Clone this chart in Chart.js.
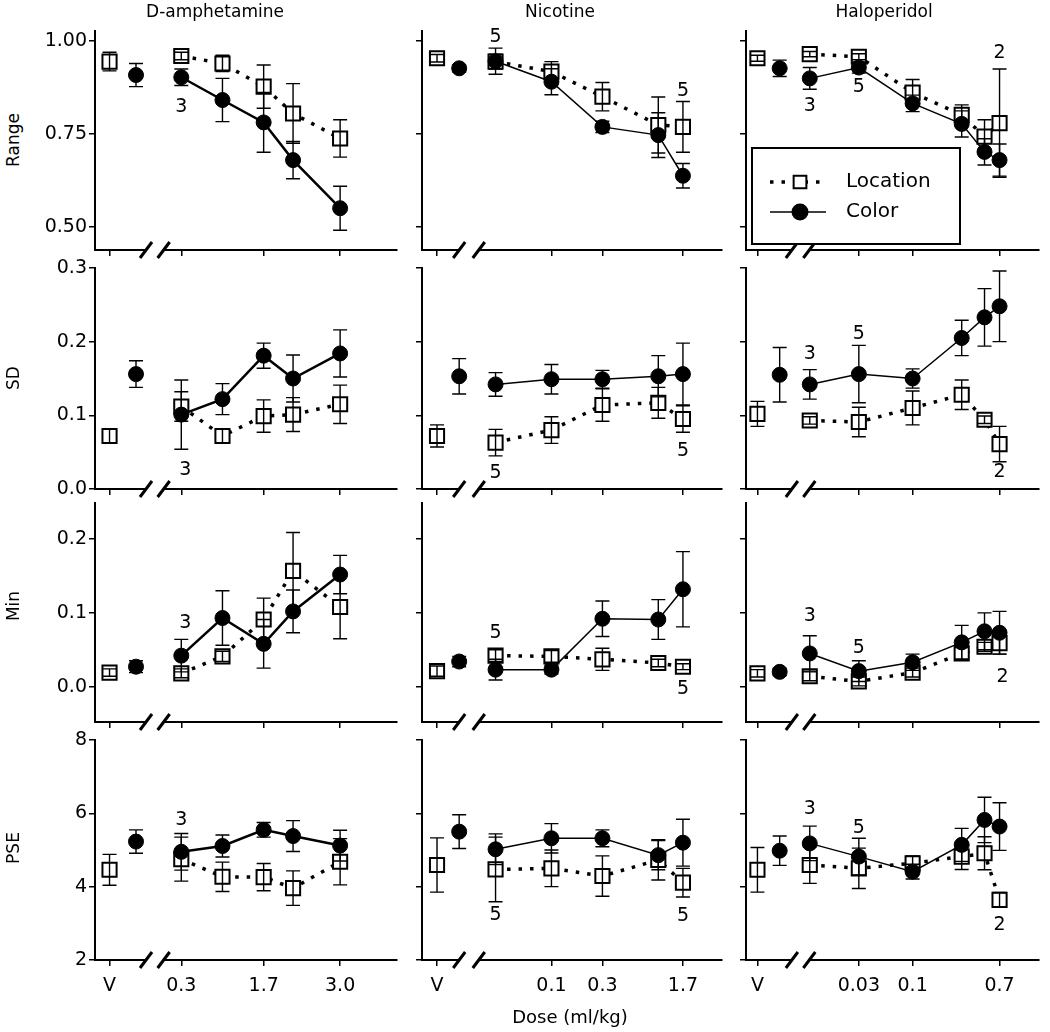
<!DOCTYPE html>
<html>
<head>
<meta charset="utf-8">
<script src="https://cdn.jsdelivr.net/npm/chart.js@4.4.1/dist/chart.umd.min.js"></script>
<style>
  body { margin: 0; background: #fff; }
  #fig { position: relative; width: 1050px; height: 1032px; font-family: "DejaVu Sans", sans-serif; color: #000; }
  #fig canvas { position: absolute; }
  .ttl { position: absolute; font-size: 17px; transform: translateX(-50%); white-space: nowrap; }
  .ylab { position: absolute; font-size: 17px; transform: translate(-50%, -50%) rotate(-90deg); white-space: nowrap; }
</style>
</head>
<body>
<div id="fig"></div>
<script>
const FONT = '"DejaVu Sans", "Liberation Sans", sans-serif';

// doses (ml/kg) on each drug's x axis
const ampDoses = [0.3, 1.0, 1.7, 2.2, 3.0];
const nicDoses = [0.03, 0.1, 0.3, 1.0, 1.7];
const halDoses = [0.01, 0.03, 0.1, 0.3, 0.5, 0.7];

// vehicle points sit left of the axis break: [location, color]
const ampVehicleX = [-0.92, -0.47];
const nicVehicleX = [0.0085, 0.0137];
const halVehicleX = [0.0031, 0.0051];

const ampTickValues = [-0.92, 0.3, 1.7, 3.0];
const ampTickLabels = ['V', '0.3', '1.7', '3.0'];
const nicTickValues = [0.0085, 0.1, 0.3, 1.7];
const nicTickLabels = ['V', '0.1', '0.3', '1.7'];
const halTickValues = [0.0031, 0.03, 0.1, 0.7];
const halTickLabels = ['V', '0.03', '0.1', '0.7'];

const rangeTicks = [0.5, 0.75, 1.0];
const rangeTickLabels = ['0.50', '0.75', '1.00'];
const sdTicks = [0, 0.1, 0.2, 0.3];
const sdTickLabels = ['0.0', '0.1', '0.2', '0.3'];
const minTicks = [0, 0.1, 0.2];
const minTickLabels = ['0.0', '0.1', '0.2'];
const pseTicks = [2, 4, 6, 8];
const pseTickLabels = ['2', '4', '6', '8'];

// values: first entry is vehicle, then the doses in order
const ampRangeLoc = [0.944, 0.959, 0.939, 0.877, 0.805, 0.738];
const ampRangeLocErr = [0.025, 0.01, 0.022, 0.058, 0.08, 0.05];
const ampRangeCol = [0.908, 0.902, 0.841, 0.781, 0.68, 0.551];
const ampRangeColErr = [0.031, 0.022, 0.058, 0.08, 0.05, 0.059];
const ampSdLoc = [0.072, 0.112, 0.072, 0.099, 0.101, 0.115];
const ampSdLocErr = [0.01, 0.02, 0.01, 0.022, 0.023, 0.026];
const ampSdCol = [0.156, 0.101, 0.122, 0.181, 0.150, 0.184];
const ampSdColErr = [0.018, 0.047, 0.021, 0.017, 0.032, 0.032];
const ampMinLoc = [0.019, 0.018, 0.041, 0.091, 0.157, 0.108];
const ampMinLocErr = [0.005, 0.006, 0.007, 0.029, 0.052, 0.043];
const ampMinCol = [0.027, 0.042, 0.093, 0.058, 0.102, 0.152];
const ampMinColErr = [0.008, 0.022, 0.037, 0.033, 0.029, 0.026];
const ampPseLoc = [4.46, 4.75, 4.27, 4.26, 3.96, 4.68];
const ampPseLocErr = [0.42, 0.6, 0.4, 0.37, 0.47, 0.63];
const ampPseCol = [5.23, 4.95, 5.11, 5.55, 5.38, 5.12];
const ampPseColErr = [0.32, 0.5, 0.3, 0.2, 0.42, 0.42];

const nicRangeLoc = [0.953, 0.944, 0.917, 0.85, 0.774, 0.769];
const nicRangeLocErr = [0.01, 0.02, 0.027, 0.038, 0.075, 0.068];
const nicRangeCol = [0.926, 0.945, 0.89, 0.769, 0.747, 0.638];
const nicRangeColErr = [0.01, 0.035, 0.035, 0.015, 0.06, 0.033];
const nicSdLoc = [0.072, 0.063, 0.080, 0.114, 0.117, 0.095];
const nicSdLocErr = [0.015, 0.018, 0.018, 0.022, 0.021, 0.018];
const nicSdCol = [0.153, 0.142, 0.149, 0.149, 0.153, 0.156];
const nicSdColErr = [0.024, 0.016, 0.02, 0.012, 0.028, 0.042];
const nicMinLoc = [0.021, 0.042, 0.041, 0.037, 0.032, 0.027];
const nicMinLocErr = [0.007, 0.008, 0.008, 0.015, 0.005, 0.004];
const nicMinCol = [0.034, 0.023, 0.023, 0.092, 0.091, 0.132];
const nicMinColErr = [0.007, 0.014, 0.006, 0.024, 0.027, 0.051];
const nicPseLoc = [4.59, 4.47, 4.5, 4.29, 4.73, 4.11];
const nicPseLocErr = [0.74, 0.88, 0.5, 0.55, 0.55, 0.39];
const nicPseCol = [5.5, 5.02, 5.32, 5.32, 4.86, 5.2];
const nicPseColErr = [0.46, 0.42, 0.4, 0.23, 0.4, 0.64];

const halRangeLoc = [0.953, 0.964, 0.957, 0.861, 0.801, 0.743, 0.779];
const halRangeLocErr = [0.008, 0.007, 0.008, 0.035, 0.027, 0.045, 0.145];
const halRangeCol = [0.926, 0.899, 0.928, 0.832, 0.777, 0.702, 0.68];
const halRangeColErr = [0.022, 0.029, 0.015, 0.022, 0.035, 0.035, 0.043];
const halSdLoc = [0.102, 0.093, 0.091, 0.110, 0.128, 0.094, 0.061];
const halSdLocErr = [0.017, 0.005, 0.02, 0.023, 0.02, 0.005, 0.024];
const halSdCol = [0.155, 0.142, 0.156, 0.150, 0.205, 0.233, 0.248];
const halSdColErr = [0.037, 0.02, 0.039, 0.013, 0.024, 0.039, 0.048];
const halMinLoc = [0.018, 0.014, 0.007, 0.019, 0.045, 0.054, 0.059];
const halMinLocErr = [0.005, 0.006, 0.006, 0.006, 0.008, 0.006, 0.015];
const halMinCol = [0.020, 0.045, 0.021, 0.033, 0.060, 0.075, 0.073];
const halMinColErr = [0.005, 0.024, 0.014, 0.011, 0.023, 0.025, 0.029];
const halPseLoc = [4.46, 4.59, 4.5, 4.64, 4.82, 4.91, 3.64];
const halPseLocErr = [0.61, 0.5, 0.55, 0.2, 0.35, 0.45, 0.2];
const halPseCol = [4.98, 5.18, 4.82, 4.41, 5.14, 5.82, 5.64];
const halPseColErr = [0.4, 0.47, 0.5, 0.2, 0.45, 0.62, 0.65];

// n labels: [dose, value, text]
const ampRangeNotes = [[0.3, 0.822, '3']];
const nicRangeNotes = [[0.03, 1.01, '5'], [1.7, 0.865, '5']];
const halRangeNotes = [[0.7, 0.967, '2'], [0.01, 0.825, '3'], [0.03, 0.876, '5']];
const ampSdNotes = [[0.37, 0.026, '3']];
const nicSdNotes = [[0.03, 0.022, '5'], [1.7, 0.052, '5']];
const halSdNotes = [[0.01, 0.183, '3'], [0.03, 0.21, '5'], [0.7, 0.0235, '2']];
const ampMinNotes = [[0.37, 0.086, '3']];
const nicMinNotes = [[0.03, 0.073, '5'], [1.7, -0.003, '5']];
const halMinNotes = [[0.01, 0.095, '3'], [0.03, 0.0525, '5'], [0.75, 0.013, '2']];
const ampPseNotes = [[0.3, 5.82, '3']];
const nicPseNotes = [[0.03, 3.23, '5'], [1.7, 3.2, '5']];
const halPseNotes = [[0.01, 6.12, '3'], [0.03, 5.6, '5'], [0.7, 2.95, '2']];

const drugTitles = ['D-amphetamine', 'Nicotine', 'Haloperidol'];
const measureTitles = ['Range', 'SD', 'Min', 'PSE'];

// ---- layout (pixels) ----
const colLeft = [95, 422, 746], colRight = [403, 728, 1045];
const rowTop = [31, 268, 503, 740], rowBottom = [250, 489, 722, 960];
const Y_W = 60, PAD_T = 14, PAD_R = 6, PAD_B = 6;

const xAxes = [
  { type: 'linear', min: -1.167, max: 3.967, doses: ampDoses, vx: ampVehicleX, tv: ampTickValues, tl: ampTickLabels, brk: [-0.3, 0.0], lw: 2.5 },
  { type: 'logarithmic', min: 0.00615, max: 3.945, doses: nicDoses, vx: nicVehicleX, tv: nicTickValues, tl: nicTickLabels, brk: [0.0137, 0.0209], lw: 1.5 },
  { type: 'logarithmic', min: 0.0024, max: 1.693, doses: halDoses, vx: halVehicleX, tv: halTickValues, tl: halTickLabels, brk: [0.0067, 0.0099], lw: 1.5 }
];
const yAxes = [
  { min: 0.439, max: 1.026, tv: rangeTicks, tl: rangeTickLabels },
  { min: 0, max: 0.3, tv: sdTicks, tl: sdTickLabels },
  { min: -0.048, max: 0.249, tv: minTicks, tl: minTickLabels },
  { min: 2, max: 8, tv: pseTicks, tl: pseTickLabels }
];
const series = [
  [[ampRangeLoc, ampRangeLocErr, ampRangeCol, ampRangeColErr, ampRangeNotes],
   [nicRangeLoc, nicRangeLocErr, nicRangeCol, nicRangeColErr, nicRangeNotes],
   [halRangeLoc, halRangeLocErr, halRangeCol, halRangeColErr, halRangeNotes]],
  [[ampSdLoc, ampSdLocErr, ampSdCol, ampSdColErr, ampSdNotes],
   [nicSdLoc, nicSdLocErr, nicSdCol, nicSdColErr, nicSdNotes],
   [halSdLoc, halSdLocErr, halSdCol, halSdColErr, halSdNotes]],
  [[ampMinLoc, ampMinLocErr, ampMinCol, ampMinColErr, ampMinNotes],
   [nicMinLoc, nicMinLocErr, nicMinCol, nicMinColErr, nicMinNotes],
   [halMinLoc, halMinLocErr, halMinCol, halMinColErr, halMinNotes]],
  [[ampPseLoc, ampPseLocErr, ampPseCol, ampPseColErr, ampPseNotes],
   [nicPseLoc, nicPseLocErr, nicPseCol, nicPseColErr, nicPseNotes],
   [halPseLoc, halPseLocErr, halPseCol, halPseColErr, halPseNotes]]
];

// error bars drawn over the markers, like the original
const errorBars = {
  id: 'errorBars',
  afterDatasetsDraw(chart) {
    const ctx = chart.ctx, ys = chart.scales.y;
    ctx.save();
    ctx.strokeStyle = '#000';
    ctx.lineWidth = 1.4;
    chart.data.datasets.forEach((ds, di) => {
      chart.getDatasetMeta(di).data.forEach((pt, i) => {
        const v = ds.data[i].y, e = ds.errors[i];
        const top = ys.getPixelForValue(v + e), bot = ys.getPixelForValue(v - e);
        ctx.beginPath();
        ctx.moveTo(pt.x, top); ctx.lineTo(pt.x, bot);
        ctx.moveTo(pt.x - 7, top); ctx.lineTo(pt.x + 7, top);
        ctx.moveTo(pt.x - 7, bot); ctx.lineTo(pt.x + 7, bot);
        ctx.stroke();
      });
    });
    ctx.restore();
  }
};

function notesPlugin(items) {
  return {
    id: 'notes',
    afterDatasetsDraw(chart) {
      const { ctx, scales } = chart;
      ctx.save();
      ctx.fillStyle = '#000';
      ctx.font = '19px ' + FONT;
      ctx.textAlign = 'center';
      ctx.textBaseline = 'middle';
      items.forEach(n => ctx.fillText(n[2], scales.x.getPixelForValue(n[0]), scales.y.getPixelForValue(n[1])));
      ctx.restore();
    }
  };
}

function breakPlugin(xa, xb) {
  return {
    id: 'axisBreak',
    afterDraw(chart) {
      const { ctx, chartArea, scales } = chart;
      const p1 = scales.x.getPixelForValue(xa), p2 = scales.x.getPixelForValue(xb);
      const y = chartArea.bottom;
      ctx.save();
      ctx.fillStyle = '#fff';
      ctx.fillRect(p1, y - 3, p2 - p1, 6);
      ctx.strokeStyle = '#000';
      ctx.lineWidth = 3;
      [p1, p2].forEach(p => {
        ctx.beginPath();
        ctx.moveTo(p - 6, y + 8);
        ctx.lineTo(p + 6, y - 8);
        ctx.stroke();
      });
      ctx.restore();
    }
  };
}

const legendBox = {
  id: 'legendBox',
  afterDraw(chart) {
    const { ctx, chartArea } = chart;
    const x0 = chartArea.left + 6, y0 = chartArea.top + 117, w = 208, h = 96;
    ctx.save();
    ctx.fillStyle = '#fff';
    ctx.fillRect(x0, y0, w, h);
    ctx.strokeStyle = '#000';
    ctx.lineWidth = 2;
    ctx.strokeRect(x0, y0, w, h);
    const rows = [
      { label: 'Location', dash: [3.5, 8], lw: 3.5, style: 'rect', r: 9, fill: '#fff' },
      { label: 'Color', dash: [], lw: 1.5, style: 'circle', r: 7.5, fill: '#000' }
    ];
    rows.forEach((it, k) => {
      const y = y0 + 34 + k * 30;
      ctx.strokeStyle = '#000';
      ctx.setLineDash(it.dash);
      ctx.lineWidth = it.lw;
      ctx.beginPath(); ctx.moveTo(x0 + 18, y); ctx.lineTo(x0 + 74, y); ctx.stroke();
      ctx.setLineDash([]);
      ctx.fillStyle = it.fill;
      ctx.lineWidth = 2;
      Chart.helpers.drawPoint(ctx, { pointStyle: it.style, radius: it.r, borderWidth: 2, rotation: 0 }, x0 + 48, y);
      ctx.fillStyle = '#000';
      ctx.font = '20px ' + FONT;
      ctx.textBaseline = 'middle';
      ctx.fillText(it.label, x0 + 94, y);
    });
    ctx.restore();
  }
};

const fig = document.getElementById('fig');

function buildPanel(r, c) {
  const xa = xAxes[c], ya = yAxes[r];
  const [locVals, locErr, colVals, colErr, notes] = series[r][c];
  const xH = r === 3 ? 40 : 10;
  const canvas = document.createElement('canvas');
  const width = Y_W + (colRight[c] - colLeft[c]) + PAD_R;
  const height = PAD_T + (rowBottom[r] - rowTop[r]) + xH + PAD_B;
  canvas.width = width;
  canvas.height = height;
  canvas.style.left = (colLeft[c] - Y_W) + 'px';
  canvas.style.top = (rowTop[r] - PAD_T) + 'px';
  fig.appendChild(canvas);

  const pts = (vals, vx) => vals.map((v, i) => ({ x: i === 0 ? vx : xa.doses[i - 1], y: v }));
  const hideVehicleLink = { borderColor: s => s.p0DataIndex === 0 ? 'rgba(0,0,0,0)' : '#000' };

  const plugins = [errorBars, notesPlugin(notes), breakPlugin(xa.brk[0], xa.brk[1])];
  if (r === 0 && c === 2) plugins.push(legendBox);

  new Chart(canvas, {
    type: 'line',
    data: {
      datasets: [
        {
          label: 'Color',
          data: pts(colVals, xa.vx[1]),
          errors: colErr,
          borderColor: '#000',
          borderWidth: xa.lw,
          pointStyle: 'circle',
          pointRadius: 7.5,
          pointBackgroundColor: '#000',
          pointBorderColor: '#000',
          pointBorderWidth: 1,
          segment: hideVehicleLink,
          order: 0,
          clip: false
        },
        {
          label: 'Location',
          data: pts(locVals, xa.vx[0]),
          errors: locErr,
          borderColor: '#000',
          borderWidth: 3.5,
          borderDash: [3.5, 8],
          pointStyle: 'rect',
          pointRadius: 10,
          pointBackgroundColor: '#fff',
          pointBorderColor: '#000',
          pointBorderWidth: 2,
          segment: hideVehicleLink,
          order: 1,
          clip: false
        }
      ]
    },
    options: {
      responsive: false,
      animation: false,
      events: [],
      layout: { padding: { top: PAD_T, right: PAD_R, bottom: PAD_B, left: 0 } },
      plugins: { legend: { display: false }, tooltip: { enabled: false } },
      scales: {
        x: {
          type: xa.type,
          min: xa.min,
          max: xa.max,
          afterBuildTicks: s => { s.ticks = xa.tv.map(v => ({ value: v })); },
          afterFit: s => { s.height = xH; },
          ticks: {
            display: r === 3,
            autoSkip: false,
            maxRotation: 0,
            padding: 9,
            color: '#000',
            font: { family: FONT, size: 19 },
            callback: (v, i) => xa.tl[i]
          },
          grid: { drawOnChartArea: false, drawTicks: true, tickLength: 6, color: '#000', lineWidth: 1.5 },
          border: { display: true, color: '#000', width: 2 }
        },
        y: {
          type: 'linear',
          min: ya.min,
          max: ya.max,
          afterBuildTicks: s => { s.ticks = ya.tv.map(v => ({ value: v })); },
          afterFit: s => { s.width = Y_W; },
          ticks: {
            display: c === 0,
            padding: 2,
            color: '#000',
            font: { family: FONT, size: 19 },
            callback: (v, i) => ya.tl[i]
          },
          grid: { drawOnChartArea: false, drawTicks: true, tickLength: 6, color: '#000', lineWidth: 1.5 },
          border: { display: true, color: '#000', width: 2 }
        }
      }
    },
    plugins: plugins
  });
}

for (let r = 0; r < 4; r++) {
  for (let c = 0; c < 3; c++) buildPanel(r, c);
}

// titles as page text
const titleX = [215, 560, 884];
drugTitles.forEach((t, i) => {
  const d = document.createElement('div');
  d.className = 'ttl';
  d.textContent = t;
  d.style.left = titleX[i] + 'px';
  d.style.top = '1px';
  fig.appendChild(d);
});
const ylabY = [140, 378, 606, 848];
measureTitles.forEach((t, i) => {
  const d = document.createElement('div');
  d.className = 'ylab';
  d.textContent = t;
  d.style.left = '13px';
  d.style.top = ylabY[i] + 'px';
  fig.appendChild(d);
});
const xl = document.createElement('div');
xl.className = 'ttl';
xl.textContent = 'Dose (ml/kg)';
xl.style.left = '570px';
xl.style.top = '1006px';
xl.style.fontSize = '18px';
fig.appendChild(xl);
</script>
</body>
</html>
